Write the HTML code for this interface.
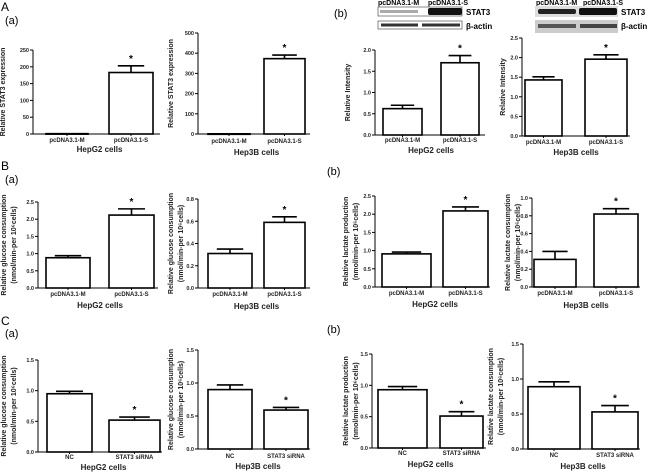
<!DOCTYPE html>
<html><head><meta charset="utf-8"><style>
body{margin:0;background:#fff;}
svg{display:block;font-family:"Liberation Sans",Arial,sans-serif;}
</style></head><body>
<svg id="fig" width="650" height="472" viewBox="0 0 650 472">
<g font-size="12" fill="#000">
<text x="1" y="11">A</text>
<text x="5" y="24" font-size="11">(a)</text>
<text x="334" y="17" font-size="11">(b)</text>
<text x="1" y="170">B</text>
<text x="5" y="183" font-size="11">(a)</text>
<text x="327" y="175" font-size="11">(b)</text>
<text x="1" y="325">C</text>
<text x="5" y="337" font-size="11">(a)</text>
<text x="327" y="333" font-size="11">(b)</text>
</g>
<g>
<text x="378" y="5" font-size="7" font-weight="bold">pcDNA3.1-M</text>
<text x="428" y="5" font-size="7" font-weight="bold">pcDNA3.1-S</text>
<rect x="378" y="7" width="84" height="9" fill="#fff" stroke="#555" stroke-width="0.7"/>
<rect x="380" y="10" width="38" height="3" fill="#aaa"/>
<rect x="428" y="8" width="34" height="7" fill="#111" rx="2"/>
<rect x="378" y="21" width="84" height="8" fill="#fff" stroke="#555" stroke-width="0.7"/>
<rect x="381" y="23.5" width="37" height="3" fill="#333"/>
<rect x="422" y="23.5" width="38" height="3" fill="#333"/>
<text x="466" y="15" font-size="8" font-weight="bold">STAT3</text>
<text x="466" y="29" font-size="8" font-weight="bold">β-actin</text>
</g>
<g>
<text x="536" y="5" font-size="7" font-weight="bold">pcDNA3.1-M</text>
<text x="583" y="5" font-size="7" font-weight="bold">pcDNA3.1-S</text>
<rect x="535" y="6" width="83" height="11" fill="#ddd"/>
<rect x="538" y="9" width="38" height="5" fill="#222" rx="2"/>
<rect x="579" y="8" width="38" height="7" fill="#111" rx="2"/>
<rect x="535" y="20" width="83" height="13" fill="#ccc"/>
<rect x="538" y="24" width="38" height="4" fill="#555"/>
<rect x="580" y="24" width="37" height="4" fill="#444"/>
<text x="621" y="15" font-size="8" font-weight="bold">STAT3</text>
<text x="621" y="29" font-size="8" font-weight="bold">β-actin</text>
</g>
</svg>
<script>
// Data arrays
const catsOver = ["pcDNA3.1-M", "pcDNA3.1-S"];
const catsKnock = ["NC", "STAT3 siRNA"];
const aaHepG2Vals = [1, 183];   const aaHepG2Errs = [0, 20];   const aaHepG2Ticks = [0, 50, 100, 150, 200, 250];
const aaHep3BVals = [1, 373];   const aaHep3BErrs = [0, 18];   const aaHep3BTicks = [0, 100, 200, 300, 400, 500];
const abHepG2Vals = [0.62, 1.7]; const abHepG2Errs = [0.08, 0.17]; const abHepG2Ticks = [0, 0.5, 1.0, 1.5, 2.0];
const abHep3BVals = [1.43, 1.96]; const abHep3BErrs = [0.08, 0.11]; const abHep3BTicks = [0, 0.5, 1.0, 1.5, 2.0, 2.5];
const baHepG2Vals = [0.88, 2.12]; const baHepG2Errs = [0.06, 0.18]; const baHepG2Ticks = [0, 0.5, 1.0, 1.5, 2.0, 2.5];
const baHep3BVals = [0.31, 0.59]; const baHep3BErrs = [0.04, 0.05]; const baHep3BTicks = [0, 0.2, 0.4, 0.6, 0.8];
const bbHepG2Vals = [0.91, 2.09]; const bbHepG2Errs = [0.05, 0.11]; const bbHepG2Ticks = [0, 0.5, 1.0, 1.5, 2.0, 2.5];
const bbHep3BVals = [0.31, 0.82]; const bbHep3BErrs = [0.09, 0.06]; const bbHep3BTicks = [0, 0.2, 0.4, 0.6, 0.8, 1.0];
const caHepG2Vals = [0.95, 0.52]; const caHepG2Errs = [0.04, 0.05]; const caHepG2Ticks = [0, 0.5, 1.0, 1.5];
const caHep3BVals = [0.9, 0.59];  const caHep3BErrs = [0.07, 0.04]; const caHep3BTicks = [0, 0.5, 1.0, 1.5];
const cbHepG2Vals = [0.93, 0.51]; const cbHepG2Errs = [0.05, 0.07]; const cbHepG2Ticks = [0, 0.5, 1.0, 1.5];
const cbHep3BVals = [0.89, 0.53]; const cbHep3BErrs = [0.07, 0.09]; const cbHep3BTicks = [0, 0.5, 1.0, 1.5];

const NS = "http://www.w3.org/2000/svg";
const svg = document.getElementById("fig");
function mk(tag, attrs, parent) {
  const e = document.createElementNS(NS, tag);
  for (const k in attrs) e.setAttribute(k, attrs[k]);
  parent.appendChild(e);
  return e;
}
const g1 = "Relative glucose consumption", sub = "(nmol/min-per 10⁶cells)";
const panels = [
 {id:"A-a-hepg2", ax:33, y0:134, yTop:50, xEnd:160, b:[[46,88],[109,153]], cats:catsOver, v:aaHepG2Vals, e:aaHepG2Errs, t:aaHepG2Ticks, dec:0, title:["Relative STAT3 expression"], tx:0, cell:"HepG2 cells", cy:152, ly:142},
 {id:"A-a-hep3b", ax:198, y0:134, yTop:33, xEnd:310, b:[[208,250],[264,305]], cats:catsOver, v:aaHep3BVals, e:aaHep3BErrs, t:aaHep3BTicks, dec:0, title:["Relative STAT3 expression"], tx:168, cell:"Hep3B cells", cy:155, ly:143},
 {id:"A-b-hepg2", ax:375, y0:135, yTop:50, xEnd:485, b:[[383,422],[441,479]], cats:catsOver, v:abHepG2Vals, e:abHepG2Errs, t:abHepG2Ticks, dec:1, title:["Relative Intensity"], tx:345, cell:"HepG2 cells", cy:153, ly:142},
 {id:"A-b-hep3b", ax:522, y0:136, yTop:38, xEnd:630, b:[[525,562],[585,627]], cats:catsOver, v:abHep3BVals, e:abHep3BErrs, t:abHep3BTicks, dec:1, title:["Relative Intensity"], tx:500, cell:"Hep3B cells", cy:155, ly:144},
 {id:"B-a-hepg2", ax:38, y0:288, yTop:202, xEnd:158, b:[[46,90],[109,154]], cats:catsOver, v:baHepG2Vals, e:baHepG2Errs, t:baHepG2Ticks, dec:1, title:[g1, sub], tx:1, cell:"HepG2 cells", cy:308, ly:296},
 {id:"B-a-hep3b", ax:198, y0:288, yTop:199, xEnd:310, b:[[208,252],[264,305]], cats:catsOver, v:baHep3BVals, e:baHep3BErrs, t:baHep3BTicks, dec:1, title:[g1, sub], tx:168, cell:"Hep3B cells", cy:309, ly:296},
 {id:"B-b-hepg2", ax:375, y0:287, yTop:196, xEnd:490, b:[[382,431],[443,488]], cats:catsOver, v:bbHepG2Vals, e:bbHepG2Errs, t:bbHepG2Ticks, dec:1, title:["Relative lactate production", sub], tx:343, cell:"HepG2 cells", cy:307, ly:295},
 {id:"B-b-hep3b", ax:532, y0:287, yTop:198, xEnd:640, b:[[534,576],[594,638]], cats:catsOver, v:bbHep3BVals, e:bbHep3BErrs, t:bbHep3BTicks, dec:1, title:["Relative lactate consumption", sub], tx:505, cell:"Hep3B cells", cy:308, ly:295},
 {id:"C-a-hepg2", ax:38, y0:452, yTop:360, xEnd:162, b:[[47,92],[109,160]], cats:catsKnock, v:caHepG2Vals, e:caHepG2Errs, t:caHepG2Ticks, dec:1, title:[g1, sub], tx:1, cell:"HepG2 cells", cy:470, ly:459},
 {id:"C-a-hep3b", ax:198, y0:449, yTop:350, xEnd:310, b:[[208,252],[264,308]], cats:catsKnock, v:caHep3BVals, e:caHep3BErrs, t:caHep3BTicks, dec:1, title:[g1, sub], tx:168, cell:"Hep3B cells", cy:469, ly:458},
 {id:"C-b-hepg2", ax:372, y0:448, yTop:354, xEnd:486, b:[[378,427],[440,483]], cats:catsKnock, v:cbHepG2Vals, e:cbHepG2Errs, t:cbHepG2Ticks, dec:1, title:["Relative lactate production", sub], tx:343, cell:"HepG2 cells", cy:467, ly:455},
 {id:"C-b-hep3b", ax:523, y0:449, yTop:344, xEnd:640, b:[[528,580],[592,638]], cats:catsKnock, v:cbHep3BVals, e:cbHep3BErrs, t:cbHep3BTicks, dec:1, title:["Relative lactate consumption", sub], tx:488, cell:"Hep3B cells", cy:469, ly:457}
];
panels.forEach(p => {
  const g = mk("g", {}, svg);
  
  
  const tMax = p.t[p.t.length - 1];
  const yS = v => p.y0 - (v / tMax) * (p.y0 - p.yTop);
  const ya = mk("line", {x1:p.ax, x2:p.ax, y1:p.y0, y2:p.yTop, stroke:"#000", "stroke-width":1}, g);
  
  
  p.t.forEach(t => {
    const y = yS(t);
    const tk = mk("line", {x1:p.ax-3, x2:p.ax, y1:y, y2:y, stroke:"#000", "stroke-width":1}, g);
    
    
    const tl = mk("text", {x:p.ax-4, y:y+2, "font-size":5.5, "text-anchor":"end", "font-weight":"bold", fill:"#222"}, g);
    tl.textContent = t.toFixed(p.dec);
    
    
  });
  const xa = mk("line", {x1:p.ax, x2:p.xEnd, y1:p.y0, y2:p.y0, stroke:"#000", "stroke-width":1}, g);
  
  
  p.v.forEach((v, i) => {
    const [x0, x1] = p.b[i];
    const cx = (x0 + x1) / 2;
    const yv = yS(v);
    const bar = mk("rect", {x:x0, y:yv, width:x1-x0, height:Math.max(p.y0-yv, 0.5), fill:"#fff", stroke:"#000", "stroke-width":1.6}, g);
    
    
    if (p.e[i] > 0) {
      const ye = yS(v + p.e[i]);
      const w = (x1 - x0) * 0.3;
      const eb = mk("path", {d:`M${cx} ${yv} V${ye} M${cx-w} ${ye} H${cx+w}`, stroke:"#000", "stroke-width":1.6, fill:"none"}, g);
      
      
    }
    const xt = mk("line", {x1:cx, x2:cx, y1:p.y0, y2:p.y0+2, stroke:"#000", "stroke-width":1}, g);
    
    
    const cl = mk("text", {x:cx, y:p.ly, "font-size":6, "text-anchor":"middle", "font-weight":"bold", fill:"#222"}, g);
    cl.textContent = p.cats[i];
    
    
    if (i === 1) {
      const st = mk("text", {x:cx, y:yS(v + p.e[i]) - 4, "font-size":10, "text-anchor":"middle", "font-weight":"bold"}, g);
      st.textContent = "*";
      
      
    }
  });
  const cellx = (p.b[0][0] + p.b[1][1]) / 2;
  const ct = mk("text", {x:cellx, y:p.cy, "font-size":8, "text-anchor":"middle", "font-weight":"bold", fill:"#222"}, g);
  ct.textContent = p.cell;
  
  
  const my = (p.y0 + p.yTop) / 2;
  p.title.forEach((line, j) => {
    const x = p.tx + 5 + j * 10;
    const yt = mk("text", {x:x, y:my, "font-size":7, "text-anchor":"middle", "font-weight":"bold", fill:"#222", transform:`rotate(-90 ${x} ${my})`}, g);
    yt.textContent = line;
    
    
  });
});
</script>
</body></html>
